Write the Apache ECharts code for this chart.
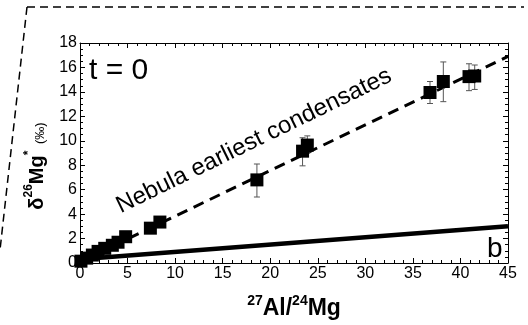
<!DOCTYPE html>
<html><head><meta charset="utf-8">
<script src="https://cdn.jsdelivr.net/npm/echarts@6/dist/echarts.min.js"></script>
<style>html,body{margin:0;padding:0;background:#fff}#c{width:528px;height:325px}</style>
</head><body><div id="c"></div>
<script>
// ---- data ----
const pointX = [0.1, 0.7, 1.3, 1.9, 2.6, 3.4, 4.0, 4.8, 7.4, 8.4, 18.6, 23.4, 23.9, 36.8, 38.2, 40.9, 41.5];
const pointY = [0.15, 0.4, 0.65, 0.95, 1.2, 1.45, 1.7, 2.15, 2.85, 3.35, 6.8, 9.15, 9.65, 13.95, 14.85, 15.25, 15.3];
const errX = [18.6, 23.4, 23.9, 36.8, 38.2, 40.9, 41.5];
const errLow = [5.4, 7.95, 9.0, 13.05, 13.2, 14.1, 14.2];
const errHigh = [8.1, 10.25, 10.4, 14.85, 16.45, 16.3, 16.2];
const nebulaLineX = [0, 45];
const nebulaLineY = [0.1, 16.9];
const solidLineX = [0, 45];
const solidLineY = [0.3, 3.0];
const xTicks = {min: 0, max: 45, interval: 5};
const yTicks = {min: 0, max: 18, interval: 2};

const zip = (a, b) => a.map((v, i) => [v, b[i]]);
const errData = errX.map((x, i) => [x, errLow[i], errHigh[i]]);

const FONT = '"Liberation Sans", Arial, sans-serif';
const chart = echarts.init(document.getElementById('c'), null, {renderer: 'canvas'});

function frameAxis(extra) {
  return Object.assign({
    type: 'value',
    axisLine: {show: true, onZero: false, lineStyle: {color: '#000', width: 1}},
    axisTick: {show: true, inside: true, length: 5, lineStyle: {color: '#000', width: 1}},
    minorTick: {show: true, length: 3, lineStyle: {color: '#000', width: 1}},
    splitLine: {show: false},
  }, extra);
}

const option = {
  animation: false,
  grid: {left: 80, right: 20, top: 43, bottom: 57, containLabel: false},
  xAxis: [
    frameAxis(Object.assign({}, xTicks, {position: 'bottom',
      minorTick: {show: true, splitNumber: 5, length: 3, lineStyle: {color: '#000'}},
      axisLabel: {show: true, color: '#000', fontFamily: FONT, fontSize: 16, margin: 3},
      name: '{sup|27}{b|Al/}{sup|24}{b|Mg}', nameLocation: 'middle', nameGap: 31,
      nameTextStyle: {rich: {
        b: {fontFamily: FONT, fontSize: 23, fontWeight: 'bold', color: '#000', lineHeight: 26, verticalAlign: 'bottom'},
        sup: {fontFamily: FONT, fontSize: 14, fontWeight: 'bold', color: '#000', lineHeight: 26, verticalAlign: 'top'}
      }}
    })),
    frameAxis(Object.assign({}, xTicks, {position: 'top',
      minorTick: {show: true, splitNumber: 5, length: 3, lineStyle: {color: '#000'}},
      axisLabel: {show: false}}))
  ],
  yAxis: [
    frameAxis(Object.assign({}, yTicks, {position: 'left',
      minorTick: {show: true, splitNumber: 4, length: 3, lineStyle: {color: '#000'}},
      axisLabel: {show: true, color: '#000', fontFamily: FONT, fontSize: 16, margin: 3}
    })),
    frameAxis(Object.assign({}, yTicks, {position: 'right',
      minorTick: {show: true, splitNumber: 4, length: 3, lineStyle: {color: '#000'}},
      axisLabel: {show: false}}))
  ],
  graphic: [
    {type: 'polyline', shape: {points: [[27, 7], [524, 7]]}, style: {stroke: '#000', lineWidth: 1.5, lineDash: [8, 5], fill: null}},
    {type: 'polyline', shape: {points: [[27, 7], [0, 250]]}, style: {stroke: '#000', lineWidth: 1.5, lineDash: [8, 5], fill: null}},
    {type: 'text', left: 89, top: 56, style: {text: 't = 0', fontFamily: FONT, fontSize: 30, fill: '#000'}},
    {type: 'text', left: 487, top: 235, style: {text: 'b', fontFamily: FONT, fontSize: 28, fill: '#000'}},
    {type: 'text', x: 254, y: 141, rotation: 26 * Math.PI / 180,
      style: {text: 'Nebula earliest condensates', fontFamily: FONT, fontSize: 24, fill: '#000', align: 'center', verticalAlign: 'middle'}},
    {type: 'text', x: 35, y: 166, rotation: Math.PI / 2,
      style: {text: '{b|δ}{sup|26}{b|Mg}{sup|*}  {s|(‰)}', align: 'center', verticalAlign: 'middle',
        rich: {
          b: {fontFamily: FONT, fontSize: 20, fontWeight: 'bold', fill: '#000', lineHeight: 24, verticalAlign: 'bottom'},
          sup: {fontFamily: FONT, fontSize: 12, fontWeight: 'bold', fill: '#000', lineHeight: 24, verticalAlign: 'top'},
          s: {fontFamily: FONT, fontSize: 13, fill: '#000', lineHeight: 24, verticalAlign: 'bottom'}
        }}}
  ],
  series: [
    {type: 'line', data: zip(solidLineX, solidLineY), symbol: 'none', lineStyle: {color: '#000', width: 4.5}, z: 2},
    {type: 'line', data: zip(nebulaLineX, nebulaLineY), symbol: 'none', lineStyle: {color: '#000', width: 3, type: [11, 7]}, z: 3},
    {type: 'custom', data: errData, z: 4,
      renderItem: function (params, api) {
        const x = api.value(0);
        const lo = api.coord([x, api.value(1)]);
        const hi = api.coord([x, api.value(2)]);
        const cap = 3;
        const st = {stroke: '#555', lineWidth: 1};
        return {type: 'group', children: [
          {type: 'line', shape: {x1: lo[0], y1: lo[1], x2: hi[0], y2: hi[1]}, style: st},
          {type: 'line', shape: {x1: lo[0] - cap, y1: lo[1], x2: lo[0] + cap, y2: lo[1]}, style: st},
          {type: 'line', shape: {x1: hi[0] - cap, y1: hi[1], x2: hi[0] + cap, y2: hi[1]}, style: st}
        ]};
      }},
    {type: 'scatter', data: zip(pointX, pointY), symbol: 'rect', symbolSize: 13, itemStyle: {color: '#000', opacity: 1}, z: 5}
  ]
};
chart.setOption(option);
</script></body></html>
